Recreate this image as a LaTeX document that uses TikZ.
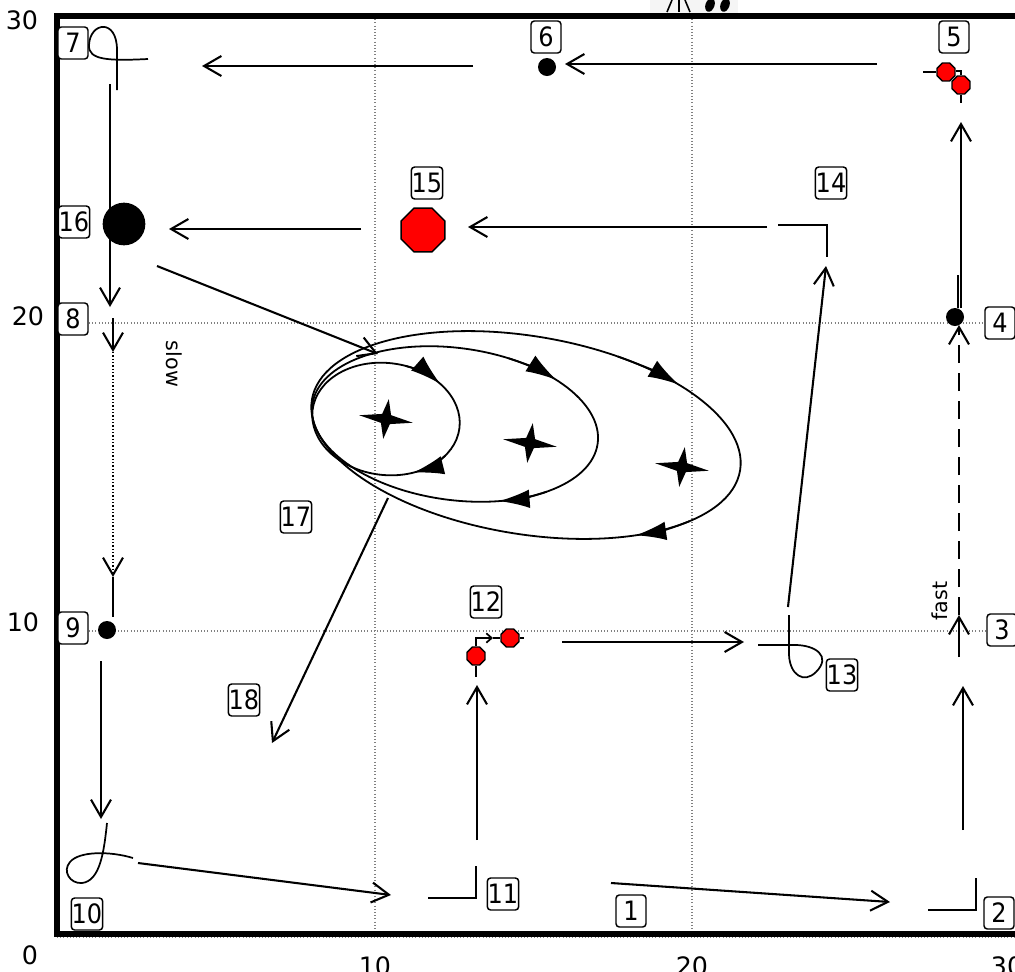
\documentclass[tikz,border=0pt]{standalone}
\usepackage{fontspec}
\setmainfont{DejaVu Sans}
\newfontfamily\lblfont{DejaVu Sans}[FakeStretch=0.9]
\usetikzlibrary{arrows.meta,shapes.geometric}
\begin{document}
\begin{tikzpicture}[x=0.75pt,y=-0.75pt,
  lbl/.style={draw, rounded corners=2.5pt, line width=1.1pt, inner sep=0.3pt, minimum width=22.5pt, minimum height=24pt, font=\lblfont\fontsize{20}{20}\selectfont, fill=white},
  axl/.style={font=\fontsize{19}{19}\selectfont, inner sep=0pt},
  conn/.style={line width=1.55pt, -{Straight Barb[length=13pt,width=15pt]}},
  seg/.style={line width=1.55pt},
  loopl/.style={line width=1.3pt},
  stopsign/.style={regular polygon, regular polygon sides=8, fill=red, draw=black, line width=1pt, inner sep=0pt},
  blackdot/.style={circle, fill=black, inner sep=0pt},
  orbit/.style={line width=1.35pt},
  orbittip/.style={line width=1.35pt, -{Latex[length=23pt,width=14pt]}},
  gridl/.style={gray, line width=0.8pt, dash pattern=on 0.8pt off 1.6pt},
  framel/.style={line width=4.9pt}
]
\useasboundingbox (0,0) rectangle (1015,972);
\clip (0,0) rectangle (1015,972);

% top cut-off gadget
\fill[gray!8] (650,0) rectangle (738,13);
\draw[line width=1.2pt] (667,12) -- (672,0);
\draw[line width=1.2pt] (679,12) -- (679,0);
\draw[line width=1.2pt] (685,0) -- (690,12);
\fill[rotate around={-20:(710,5)}] (710,5) ellipse [x radius=4.5, y radius=7];
\fill[rotate around={-20:(725,5)}] (725,5) ellipse [x radius=4.5, y radius=7];

% grid
\draw[gridl] (375,16) -- (375,937);
\draw[gridl] (692,16) -- (692,937);
\draw[gridl] (57,323) -- (1015,323);
\draw[gridl] (57,631) -- (1015,631);
\draw[gridl] (57,937) -- (1015,937);

% frame
\draw[framel] (1020,16) -- (57,16) -- (57,934) -- (1020,934);

% axis labels
\node[axl] (ax30) at (22,20) {30};
\node[axl] (ax20) at (28,316) {20};
\node[axl] (ax10) at (23,622) {10};
\node[axl] (ax0) at (30,955) {0};
\node[axl] (bx10) at (375,966) {10};
\node[axl] (bx20) at (692,966) {20};
\node[axl] (bx30) at (1007,966) {30};

% ---------- coordinates ----------
\coordinate (a1s) at (611,883); \coordinate (a1e) at (890,902);
\coordinate (k2a) at (928,910); \coordinate (k2b) at (976,910); \coordinate (k2c) at (976,878);
\coordinate (a2s) at (963,830); \coordinate (a2e) at (963,686);
\coordinate (a3s) at (959,657); \coordinate (a3e) at (959,615);
\coordinate (a3f) at (959,325);
\coordinate (s4a) at (958,275); \coordinate (s4b) at (958,308);
\coordinate (a4s) at (961,308); \coordinate (a4e) at (961,122);
\coordinate (b5a) at (961,103); \coordinate (b5b) at (961,71);
\coordinate (b5c) at (923,72);
\coordinate (a5s) at (877,64); \coordinate (a5e) at (565,64);
\coordinate (a6s) at (473,66); \coordinate (a6e) at (202,66);
\coordinate (a7s) at (110,84); \coordinate (a7e) at (110,307);
\coordinate (a8s) at (113,318); \coordinate (a8m) at (113,352); \coordinate (a8n) at (113,577); \coordinate (a8e) at (113,617);
\coordinate (a9s) at (101,661); \coordinate (a9e) at (101,819);
\coordinate (a10s) at (138,863); \coordinate (a10e) at (391,895);
\coordinate (k11a) at (428,898); \coordinate (k11b) at (476,898); \coordinate (k11c) at (476,866);
\coordinate (a11s) at (477,840); \coordinate (a11e) at (477,685);
\coordinate (c12a) at (476,677); \coordinate (c12b) at (476,638); \coordinate (c12m) at (493,638); \coordinate (c12c) at (524,638);
\coordinate (a12s) at (562,642); \coordinate (a12e) at (744,642);
\coordinate (a13s) at (788,607); \coordinate (a13e) at (826,266);
\coordinate (k14a) at (778,225); \coordinate (k14b) at (827,225); \coordinate (k14c) at (827,257);
\coordinate (a14s) at (767,227); \coordinate (a14e) at (468,227);
\coordinate (a15s) at (361,229); \coordinate (a15e) at (169,229);
\coordinate (a16s) at (157,266); \coordinate (a16e) at (378,354);
\coordinate (a17s) at (388,498); \coordinate (a17e) at (272,743);

% ---------- markers ----------
\node[blackdot, minimum size=13.5pt] (dot4) at (955,317) {};
\node[blackdot, minimum size=13.5pt] (dot6) at (547,67) {};
\node[blackdot, minimum size=13.5pt] (dot9) at (107,630) {};
\node[blackdot, minimum size=32pt] (dot16) at (124,224) {};

% ---------- connectors ----------
\draw[conn] (a1s) -- (a1e);
\draw[seg] (k2a) -- (k2b) -- (k2c);
\draw[conn] (a2s) -- (a2e);
\draw[conn] (a3s) -- (a3e);
\draw[conn, dash pattern=on 13.5pt off 7.5pt] (a3e) -- (a3f);
\draw[seg] (s4a) -- (s4b);
\draw[conn] (a4s) -- (a4e);
% gadget 5
\node[stopsign, minimum size=14.5pt] (octB) at (961,85) {};
\node[stopsign, minimum size=14.5pt] (octA) at (946,72) {};
\draw[loopl] (octB.south) -- (b5a);
\draw[loopl] (octB.north) -- (b5b) -- (octA.east |- b5b);
\draw[loopl] (octA.west) -- (b5c);
\draw[conn] (a5s) -- (a5e);
\draw[conn] (a6s) -- (a6e);
% loop 7
\draw[loopl] (148,59) .. controls (108,61) and (88,60) .. (89,45) .. controls (90,22) and (117,18) .. (117,50) -- (117,90);
\draw[conn] (a7s) -- (a7e);
% 8 -> 9
\draw[conn] (a8s) -- (a8m);
\draw[conn, dash pattern=on 1pt off 1.5pt] (a8m) -- (a8n);
\draw[seg] (a8n) -- (a8e);
\draw[conn] (a9s) -- (a9e);
% loop 10
\draw[loopl] (107,823) .. controls (104,852) and (100,881) .. (82,883) .. controls (70,884) and (62,871) .. (70,862) .. controls (79,851) and (110,851) .. (133,858);
\draw[conn] (a10s) -- (a10e);
\draw[seg] (k11a) -- (k11b) -- (k11c);
\draw[conn] (a11s) -- (a11e);
% gadget 12
\node[stopsign, minimum size=14.5pt] (octC) at (476,656) {};
\node[stopsign, minimum size=14.5pt] (octD) at (510,638) {};
\draw[loopl] (octC.south) -- (c12a);
\draw[loopl, -{Straight Barb[length=4pt,width=7pt]}] (octC.north) -- (c12b) -- (c12m);
\draw[loopl] (c12m) -- (octD.west);
\draw[loopl] (octD.east) -- (c12c);
\draw[conn] (a12s) -- (a12e);
% loop 13
\draw[loopl] (758,645) -- (795,645) .. controls (815,645) and (832,656) .. (816,672) .. controls (804,684) and (790,675) .. (789,655) -- (789,615);
\draw[conn] (a13s) -- (a13e);
\draw[seg] (k14a) -- (k14b) -- (k14c);
\draw[conn] (a14s) -- (a14e);
\node[stopsign, minimum size=35.5pt] (oct15) at (423,230) {};
\draw[conn] (a15s) -- (a15e);
\draw[conn] (a16s) -- (a16e);

% ---------- orbits ----------
\begin{scope}[shift={(386,419)}, rotate=-7.1]
  \draw[orbit] (0,0) ellipse [x radius=74, y radius=56];
  \draw[orbittip] ({74*cos(280)},{56*sin(280)}) arc[start angle=280, end angle=312, x radius=74, y radius=56];
  \draw[orbittip] ({74*cos(31)},{56*sin(31)}) arc[start angle=31, end angle=63, x radius=74, y radius=56];
\end{scope}
\begin{scope}[shift={(455,424)}, rotate=-7.75]
  \draw[orbit] (0,0) ellipse [x radius=144, y radius=76];
  \draw[orbittip] ({144*cos(288)},{76*sin(288)}) arc[start angle=288, end angle=311, x radius=144, y radius=76];
  \draw[orbittip] ({144*cos(46)},{76*sin(46)}) arc[start angle=46, end angle=68, x radius=144, y radius=76];
\end{scope}
\begin{scope}[shift={(526,435)}, rotate=-9.4]
  \draw[orbit] (0,0) ellipse [x radius=217, y radius=99];
  \draw[orbittip] ({217*cos(291)},{99*sin(291)}) arc[start angle=291, end angle=311, x radius=217, y radius=99];
  \draw[orbittip] ({217*cos(36)},{99*sin(36)}) arc[start angle=36, end angle=55, x radius=217, y radius=99];
\end{scope}
\foreach \p in {(386,419),(530,443),(682,467)} {
  \fill[shift={\p}, rotate=-8] (27,0) -- (4.5,4.5) -- (0,20) -- (-4.5,4.5) -- (-27,0) -- (-4.5,-4.5) -- (0,-20) -- (4.5,-4.5) -- cycle;
}
\draw[conn] (a17s) -- (a17e);

% ---------- texts ----------
\node[font=\fontsize{15.5}{15.5}\selectfont, rotate=-90, inner sep=0pt] (slow) at (174,364) {slow};
\node[font=\fontsize{15.5}{15.5}\selectfont, rotate=90, inner sep=0pt] (fast) at (940,601) {fast};

% ---------- labels ----------
\node[lbl] (n1) at (631,911) {1};
\node[lbl] (n2) at (999,913) {2};
\node[lbl] (n3) at (1002,630) {3};
\node[lbl] (n4) at (1000,323) {4};
\node[lbl] (n5) at (954,37) {5};
\node[lbl] (n6) at (546,37) {6};
\node[lbl] (n7) at (73,43) {7};
\node[lbl] (n8) at (73,319) {8};
\node[lbl] (n9) at (73,628) {9};
\node[lbl] (n10) at (87,914) {10};
\node[lbl] (n11) at (503,894) {11};
\node[lbl] (n12) at (486,602) {12};
\node[lbl] (n13) at (842,675) {13};
\node[lbl] (n14) at (831,183) {14};
\node[lbl] (n15) at (427,183) {15};
\node[lbl] (n16) at (74,222) {16};
\node[lbl] (n17) at (296,517) {17};
\node[lbl] (n18) at (244,700) {18};
\end{tikzpicture}
\end{document}
